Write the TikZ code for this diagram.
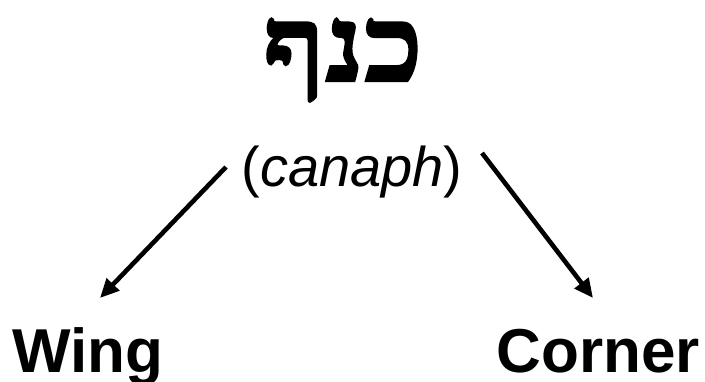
\documentclass[tikz,border=0pt]{standalone}
\usepackage{fontspec}
\setmainfont{Liberation Sans}
\newfontfamily\hebfont[Script=Hebrew, BoldFeatures={FakeBold=2}]{Liberation Serif}
\TeXXeTstate=1
\usetikzlibrary{arrows.meta}
\tikzset{
  lbl/.style={inner sep=0pt, anchor=base, text=black},
  arr/.style={line width=4.6pt, -{Triangle[length=19pt,width=17pt]}}
}
\begin{document}
\begin{tikzpicture}[x=1pt,y=1pt]
\useasboundingbox (0,0) rectangle (705,-381);
\node[lbl, font=\hebfont\bfseries\fontsize{106}{110}\selectfont] (heb) at (343,-81) {\scalebox{1.13}[1]{\beginR כנף\endR}};
\node[lbl, font=\fontsize{56}{60}\selectfont] (can) at (352,-186) {(\textit{canaph})};
\node[lbl, anchor=base west, font=\bfseries\fontsize{62}{66}\selectfont] (wing) at (12,-372) {Wing};
\node[lbl, anchor=base east, font=\bfseries\fontsize{62}{66}\selectfont] (corner) at (700,-372) {Corner};
\coordinate (ls) at (226,-167);
\coordinate (le) at (100,-298);
\coordinate (rs) at (482,-153);
\coordinate (re) at (593,-298);
\draw[arr] (ls) -- (le);
\draw[arr] (rs) -- (re);
\end{tikzpicture}
\end{document}
